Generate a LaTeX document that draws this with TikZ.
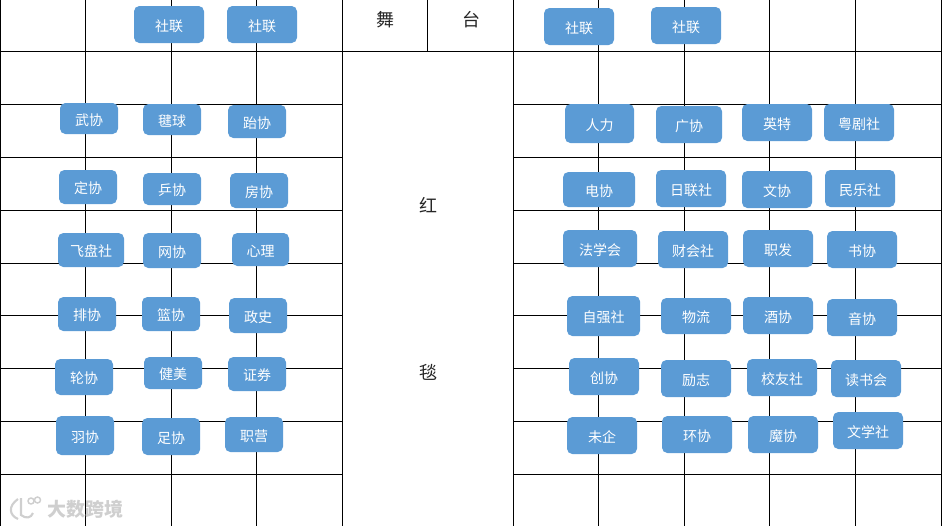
\documentclass[tikz,border=0pt]{standalone}
\usepackage{fontspec}
\usepackage{xcolor}
\setmainfont{Noto Sans CJK SC}
\definecolor{azul}{HTML}{5B9BD5}
\definecolor{marca}{HTML}{CFCFCF}
\tikzset{
	rule/.style={line width=0.75pt},
	club/.style={fill=azul, rounded corners=4pt, inner sep=0pt, text=white, text height=10pt, text depth=0pt,
		font=\fontsize{10.5}{12}\selectfont, minimum width=52.5pt, minimum height=27pt},
	stage/.style={text=black!85, inner sep=0pt, font=\fontsize{13.5}{15}\selectfont}
}

\begin{document}
\begin{tikzpicture}[x=0.75pt, y=-0.75pt]
	\useasboundingbox (0,0) rectangle (944,526);

	% left block
	\draw[rule] (0.5,0) to (0.5,526);
	\draw[rule] (85.5,0) to (85.5,526);
	\draw[rule] (171.5,0) to (171.5,526);
	\draw[rule] (256.5,0) to (256.5,526);
	\draw[rule] (342.5,0) to (342.5,526);
	% stage
	\draw[rule] (427.5,0) to (427.5,51.5);
	\draw[rule] (0,51.5) to (941.5,51.5);
	% right block
	\draw[rule] (513.5,0) to (513.5,526);
	\draw[rule] (598.5,0) to (598.5,526);
	\draw[rule] (684.5,0) to (684.5,526);
	\draw[rule] (769.5,0) to (769.5,526);
	\draw[rule] (855.5,0) to (855.5,526);
	\draw[rule] (941.5,0) to (941.5,526);

	\draw[rule] (0,104.5) to (342.5,104.5);
	\draw[rule] (0,157.5) to (342.5,157.5);
	\draw[rule] (0,210.5) to (342.5,210.5);
	\draw[rule] (0,263.5) to (342.5,263.5);
	\draw[rule] (0,315.5) to (342.5,315.5);
	\draw[rule] (0,368.5) to (342.5,368.5);
	\draw[rule] (0,421.5) to (342.5,421.5);
	\draw[rule] (0,474.5) to (342.5,474.5);

	\draw[rule] (513.5,104.5) to (941.5,104.5);
	\draw[rule] (513.5,157.5) to (941.5,157.5);
	\draw[rule] (513.5,210.5) to (941.5,210.5);
	\draw[rule] (513.5,263.5) to (941.5,263.5);
	\draw[rule] (513.5,315.5) to (941.5,315.5);
	\draw[rule] (513.5,368.5) to (941.5,368.5);
	\draw[rule] (513.5,421.5) to (941.5,421.5);
	\draw[rule] (513.5,474.5) to (941.5,474.5);

	\node[stage] (wu) at (385,20) {舞};
	\node[stage] (tai) at (471,20) {台};
	\node[stage] (hong) at (428,205) {红};
	\node[stage] (tan) at (428,372) {毯};

	% top row
	\node[club, minimum width=52.5pt, minimum height=27.75pt] (shelianA) at (169,24.5) {社联};
	\node[club, minimum width=52.5pt, minimum height=27.75pt] (shelianB) at (262,24.5) {社联};
	\node[club, minimum width=52.5pt, minimum height=27.75pt] (shelianC) at (579,26.5) {社联};
	\node[club, minimum width=52.5pt, minimum height=27.75pt] (shelianD) at (686,25.5) {社联};

	% left columns
	\node[club, minimum width=43.5pt, minimum height=23.25pt] (wuxie) at (89,118.5) {武协};
	\node[club, minimum width=43.5pt, minimum height=23.25pt] (jianqiu) at (172,119.5) {毽球};
	\node[club, minimum width=43.5pt, minimum height=24.75pt] (taixie) at (257,121.5) {跆协};
	\node[club, minimum width=43.5pt, minimum height=25.5pt] (dingxie) at (88,187) {定协};
	\node[club, minimum width=43.5pt, minimum height=24pt] (pingxie) at (172,189) {乒协};
	\node[club, minimum width=43.5pt, minimum height=26.25pt] (fangxie) at (259,190.5) {房协};
	\node[club, minimum width=49.5pt, minimum height=25.5pt] (feipan) at (91,250) {飞盘社};
	\node[club, minimum width=43.5pt, minimum height=26.25pt] (wangxie) at (172,250.5) {网协};
	\node[club, minimum width=42.75pt, minimum height=24.75pt] (xinli) at (260.5,249.5) {心理};
	\node[club, minimum width=43.5pt, minimum height=25.5pt] (paixie) at (87,314) {排协};
	\node[club, minimum width=43.5pt, minimum height=25.5pt] (lanxie) at (171,314) {篮协};
	\node[club, minimum width=43.5pt, minimum height=26.25pt] (zhengshi) at (258,315.5) {政史};
	\node[club, minimum width=43.5pt, minimum height=27pt] (lunxie) at (84,377) {轮协};
	\node[club, minimum width=43.5pt, minimum height=24pt] (jianmei) at (173,373) {健美};
	\node[club, minimum width=43.5pt, minimum height=25.5pt] (zhengquan) at (257,374) {证券};
	\node[club, minimum width=43.5pt, minimum height=29.25pt] (yuxie) at (85,435.5) {羽协};
	\node[club, minimum width=43.5pt, minimum height=27.75pt] (zuxie) at (171,436.5) {足协};
	\node[club, minimum width=43.5pt, minimum height=26.25pt] (zhiying) at (254,434.5) {职营};

	% right columns
	\node[club, minimum width=51.75pt, minimum height=29.25pt] (renli) at (599.5,123.5) {人力};
	\node[club, minimum width=49.5pt, minimum height=27.75pt] (guangxie) at (689,124.5) {广协};
	\node[club, minimum height=27.75pt] (yingte) at (777,122.5) {英特};
	\node[club, minimum height=27.75pt] (yueju) at (859,122.5) {粤剧社};
	\node[club, minimum width=54pt, minimum height=26.25pt] (dianxie) at (599,189.5) {电协};
	\node[club, minimum height=27.75pt] (rilian) at (691,188.5) {日联社};
	\node[club, minimum height=27.75pt] (wenxie) at (777,189.5) {文协};
	\node[club, minimum height=27.75pt] (minyue) at (860,188.5) {民乐社};
	\node[club, minimum width=55.5pt, minimum height=27.75pt] (faxue) at (600,248.5) {法学会};
	\node[club, minimum height=27.75pt] (caihui) at (693,249.5) {财会社};
	\node[club, minimum height=27.75pt] (zhifa) at (778,248.5) {职发};
	\node[club, minimum height=27.75pt] (shuxie) at (862,249.5) {书协};
	\node[club, minimum width=54.75pt, minimum height=30pt] (ziqiang) at (603.5,316) {自强社};
	\node[club, minimum height=27pt] (wuliu) at (696,316) {物流};
	\node[club, minimum height=27.75pt] (jiuxie) at (778,315.5) {酒协};
	\node[club, minimum height=27.75pt] (yinxie) at (862,317.5) {音协};
	\node[club, minimum height=27.75pt] (chuangxie) at (604,376.5) {创协};
	\node[club, minimum height=27.75pt] (lizhi) at (696,378.5) {励志};
	\node[club, minimum height=27.75pt] (xiaoyou) at (782,377.5) {校友社};
	\node[club, minimum height=27.75pt] (dushu) at (866,378.5) {读书会};
	\node[club, minimum height=27.75pt] (weiqi) at (602,435.5) {未企};
	\node[club, minimum height=27.75pt] (huanxie) at (697,434.5) {环协};
	\node[club, minimum height=27.75pt] (moxie) at (783,434.5) {魔协};
	\node[club, minimum height=27.75pt] (wenxue) at (868,430.5) {文学社};

	% mark in the corner
	\draw[marca, line width=1.6pt] (18,499) .. controls (8,506) and (9,515) .. (18,519);
	\draw[marca, line width=1.6pt] (21,498) to (21,515) .. controls (26,519) and (31,518) .. (33,513);
	\draw[marca, line width=1.1pt] (31,501) circle[radius=3];
	\draw[marca, line width=1.1pt] (37.5,500) circle[radius=3];
	\node[text=marca, inner sep=0pt, font=\fontsize{14.25}{16}\selectfont\bfseries] (mark) at (85,509) {大数跨境};
\end{tikzpicture}
\end{document}
